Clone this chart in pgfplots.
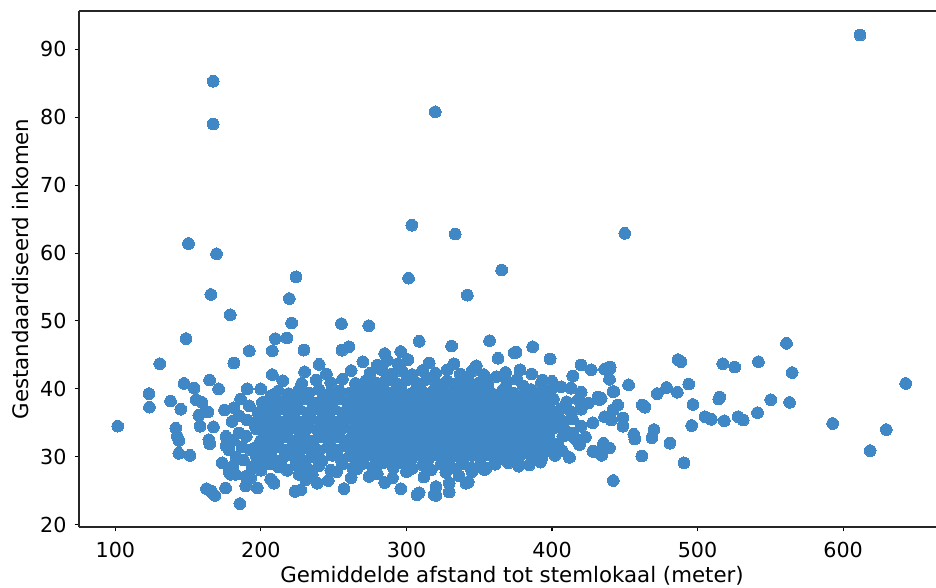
\documentclass[border=0pt]{standalone}
\usepackage{pgfplots}
\pgfplotsset{compat=1.18}
\usepackage{fontspec}
\setmainfont{DejaVu Sans}
\definecolor{pt}{RGB}{63,135,197}
\begin{document}
\begin{tikzpicture}
\begin{axis}[
  at={(0,0)}, anchor=south west,
  scale only axis,
  width=649.5pt, height=387pt,
  xmin=75, xmax=670, ymin=19.65, ymax=95.65,
  axis x line*=box, axis y line*=left,
  tick pos=left,
  tick align=outside,
  major tick length=3.2pt,
  tick style={black, line width=0.8pt},
  axis line style={black!85, line width=1pt},
  xtick={100,200,...,600},
  ytick={20,30,...,90},
  /pgf/number format/assume math mode=true,
  ticklabel style={font=\fontsize{15.5}{18}\selectfont},
  xticklabel style={inner sep=0pt, yshift=-8pt, anchor=north},
  yticklabel style={inner sep=0pt, xshift=-6pt, anchor=east},
  xlabel={Gemiddelde afstand tot stemlokaal (meter)},
  ylabel={Gestandaardiseerd inkomen},
  label style={font=\fontsize{16}{19}\selectfont},
  xlabel style={at={([yshift=-41.25pt]axis description cs:0.5,0)}, anchor=base},
  ylabel style={at={([xshift=-37.5pt]axis description cs:0,0.5)}, anchor=base},
  clip=true,
]
\addplot[only marks, mark=*, mark size=4.4pt, mark options={fill=pt, draw=pt, line width=0pt}] coordinates {
(101.6,34.5)(123.1,39.3)(123.4,37.3)(130.5,43.7)(137.9,38.2)(141.5,34.2)(142.5,33.0)(143.6,32.4)(143.6,30.5)(144.9,37.0)
(147.2,40.8)(148.6,47.4)(150.2,61.4)(151.3,30.2)(154.1,40.1)(155.5,38.4)(157.3,36.1)(158.2,34.5)(159.6,38.0)(162.6,25.3)
(163.5,36.6)(164.2,32.5)(164.8,31.9)(164.7,41.3)(165.6,53.9)(165.6,25.0)(166.5,24.7)(167.2,85.3)(167.2,79.0)(167.4,34.4)
(168.3,24.3)(169.5,59.9)(170.9,40.0)(173.4,29.1)(175.0,36.9)(175.7,25.4)(176.0,31.6)(178.0,27.8)(178.9,50.9)(179.1,27.4)
(180.2,35.2)(180.7,28.6)(181.4,43.8)(181.4,37.2)(182.6,27.4)(184.9,33.5)(185.5,23.1)(186.0,38.5)(189.5,25.7)(189.5,27.1)
(190.6,40.0)(190.6,35.4)(192.0,45.6)
(176,33.0)(178,31.0)(181,32.4)(183,30.0)(185,36.0)(187,31.5)(188,29.5)(190,33.0)(192,37.5)(193,31.0)(194,28.5)(196,34.5)
(197,30.0)(198,36.5)(199,32.0)(199.8,40.0)(200,28.0)(201,38.0)(202,34.0)(203,30.5)(204,36.0)(205,32.5)(206,29.0)(207,39.0)
(208,35.5)(209,31.5)(210,37.5)(211,33.5)(212,28.5)(207.8,42.1)(207.8,45.6)(209.9,47.4)(192.9,26.9)(197.5,25.4)
(206.7,26.7)(209,26.1)(223.4,24.9)(227.3,25.1)(226.2,27.4)(230.8,26.6)(235.3,27.4)(238.7,26.1)(246.3,26.5)(257.1,25.3)
(274.3,27.1)(290.4,26.9)(296.1,25.3)(307.2,24.4)(308.7,24.7)(319.1,24.4)(320.2,24.3)(320.2,25.6)(329.4,24.8)(329.4,26.1)
(340.9,26.1)(342.5,26.3)(252,27.8)(262,26.9)(266,28.2)(280,27.5)(285,26.2)(300,27.8)(312,27.0)(327,27.7)(336,27.2)(345,27.8)
(212.4,28.6)(206.7,29.1)(218,28.0)(224,28.8)(232,28.3)(240,28.7)(248,28.0)(256,28.9)(263,28.4)(270,29.0)(277,28.5)(284,29.1)
(291,28.4)(298,29.0)(304,28.3)(311,28.8)(317,28.1)(324,28.9)(331,28.4)(338,29.0)(344,28.4)(350,28.6)(354.6,28.3)(353.5,28.1)
(361,28.9)(370,29.1)(377,28.6)(384.4,28.8)(392,29.2)
(200,29.7)(207,30.1)(214,29.5)(221,30.2)(228,29.6)(235,30.0)(242,29.4)(249,30.2)(255,29.6)(261,30.1)(267,29.5)(273,30.2)
(279,29.7)(285,30.3)(291,29.6)(297,30.1)(303,29.5)(309,30.2)(315,29.7)(321,30.3)(327,29.6)(333,30.1)(339,29.5)(345,30.2)
(351,29.8)(357,30.3)(363,29.7)(370,30.2)(377,29.9)(385,30.3)(393,29.8)(402,30.2)(412,29.9)(428.5,30.8)(434,30.2)(461.7,30.1)
(490.6,29.1)
(196,31.3)(203,30.9)(210,31.5)(216,31.0)(222,31.6)(228,31.1)(234,31.5)(240,30.9)(246,31.4)(252,31.0)(258,31.6)(264,31.1)
(270,31.5)(276,30.9)(282,31.4)(288,31.0)(294,31.6)(300,31.1)(306,31.5)(312,31.0)(318,31.4)(324,31.0)(330,31.6)(336,31.1)
(342,31.5)(348,31.0)(354,31.4)(359.2,31.5)(366.1,30.8)(372,31.3)(379,31.0)(386,31.5)(393,31.1)(399.4,31.8)(400.5,31.5)
(407,30.9)(418.9,31.8)(428,30.8)(434.9,31.5)(439.5,31.3)
(200,32.4)(206,32.8)(212,32.3)(218,32.9)(224,32.4)(230,32.8)(236,32.3)(242,32.9)(248,32.5)(254,32.9)(260,32.3)(266,32.8)
(272,32.4)(278,32.9)(284,32.3)(290,32.8)(296,32.4)(302,32.9)(308,32.3)(314,32.8)(320,32.4)(326,32.9)(332,32.3)(338,32.8)
(344,32.4)(350,32.9)(356,32.3)(362,32.8)(368,32.4)(374,32.9)(377.6,33.0)(384,32.4)(391,32.8)(398,32.3)(407.4,33.0)
(410.8,33.2)(416,32.6)(423,32.9)(435.4,32.0)(456.9,32.6)(456.2,33.3)(468.6,32.8)(481,32.0)
(197,34.1)(203,33.7)(209,34.3)(215,33.8)(221,34.2)(227,33.7)(233,34.3)(239,33.9)(245,34.2)(251,33.7)(257,34.3)(263,33.8)
(269,34.2)(275,33.7)(281,34.3)(287,33.8)(293,34.2)(299,33.7)(305,34.3)(311,33.8)(317,34.2)(323,33.7)(329,34.3)(335,33.8)
(341,34.2)(347,33.7)(353,34.3)(359,33.8)(365,34.2)(371,33.7)(377,34.3)(383,33.8)(389,34.2)(395,33.7)(402,34.3)(409,33.8)
(420,34.5)(428,35.0)(448.7,34.5)(470,34.0)(495.9,34.6)
(198,35.5)(204,35.1)(210,35.7)(216,35.2)(222,35.6)(228,35.1)(234,35.7)(240,35.2)(246,35.6)(252,35.1)(258,35.7)(264,35.2)
(270,35.6)(276,35.1)(282,35.7)(288,35.2)(294,35.6)(300,35.1)(306,35.7)(312,35.2)(318,35.6)(324,35.1)(330,35.7)(336,35.2)
(342,35.6)(348,35.1)(354,35.7)(360,35.2)(366,35.6)(372,35.1)(378,35.7)(384,35.2)(390,35.6)(396,35.1)(402,35.7)(408,35.2)
(414,35.6)(436.1,35.9)(440.7,35.4)(448.7,35.7)(505.1,35.9)(509.5,35.5)(518.4,35.3)(527.8,35.9)(531.3,35.4)
(202,36.9)(208,36.5)(214,37.1)(220,36.6)(226,37.0)(232,36.5)(238,37.1)(244,36.6)(250,37.0)(256,36.5)(262,37.1)(268,36.6)
(274,37.0)(280,36.5)(286,37.1)(292,36.6)(298,37.0)(304,36.5)(310,37.1)(316,36.6)(322,37.0)(328,36.5)(334,37.1)(340,36.6)
(346,37.0)(352,36.5)(358,37.1)(364,36.6)(370,37.0)(376,36.5)(382,37.1)(388,36.6)(394,37.0)(400,36.5)(406,37.1)(413,36.6)
(420,37.0)(441.8,36.9)(541.2,36.5)
(205,38.3)(212,37.9)(218,38.4)(224,38.0)(230,38.5)(236,37.9)(242,38.4)(248,38.0)(254,38.5)(260,37.9)(266,38.4)(272,38.0)
(278,38.5)(284,37.9)(290,38.4)(296,38.0)(302,38.5)(308,37.9)(314,38.4)(320,38.0)(326,38.5)(332,37.9)(338,38.4)(344,38.0)
(350,38.5)(356,37.9)(362,38.4)(368,38.0)(374,38.5)(380,37.9)(387,38.4)(394,38.0)(401,38.5)(410,38.1)(418,38.4)(425,37.9)
(431.5,38.8)(432.6,38.4)(445.2,37.6)(462,37.6)(463.8,37.3)(496.8,37.7)(515.2,38.8)(514.5,38.5)(550.3,38.4)(563.2,38.0)
(212,39.7)(219,39.3)(226,39.8)(233,39.4)(240,39.9)(247,39.3)(254,39.7)(261,39.4)(268,39.9)(275,39.3)(282,39.8)(289,39.4)
(296,39.9)(303,39.3)(310,39.8)(317,39.4)(324,39.9)(331,39.3)(338,39.8)(345,39.4)(352,39.9)(359,39.3)(366,39.8)(373,39.4)
(383.3,39.6)(385.6,39.9)(392,39.3)(399,39.8)(406.3,40.3)(413.1,40.1)(420,39.5)(433.8,38.6)(441.8,39.6)(442.5,39.6)
(472.3,39.3)(478.7,40.2)(486.1,39.5)(452.6,40.6)(493.9,40.7)
(215,41.2)(228,40.8)(238,41.3)(248,40.9)(256,41.4)(265,40.8)(272,41.2)(279,40.9)(286,41.4)(293,40.8)(300,41.3)(307,40.9)
(314,41.4)(321,40.8)(328,41.2)(335,40.9)(342,41.3)(349,40.8)(355,41.2)(361.7,41.8)(369,41.0)(376,41.4)(392.5,40.8)
(393.6,41.3)(400,41.1)(414.3,41.9)(439.5,41.4)
(230,42.5)(245,42.2)(262,42.7)(275,42.3)(283,42.8)(290,42.2)(297,42.6)(304,42.1)(311,42.7)(320,42.3)(328,42.8)(337,42.2)
(345,42.6)(353,42.1)(368,42.4)(378,42.8)(386,42.2)(420,43.5)(426.9,42.8)(436.1,42.9)(437.2,43.0)(440,43.2)(439.5,42.9)
(565,42.4)
(240,43.6)(270,44.0)(280,43.5)(287,44.2)(294,43.7)(301,44.3)(315.6,43.8)(332.6,43.7)(348,43.4)(362.9,44.5)(398.7,44.4)
(517.3,43.7)(525.5,43.2)(541.8,44.0)(486.5,44.3)(488.6,44.0)
(229.5,45.7)(255.7,45.7)(260.5,46.2)(285,45.2)(296,45.5)(308.7,47.0)(331,46.3)(357.1,47.1)(374.1,45.3)(375.3,45.4)
(386.7,46.2)(217.8,47.5)(561.1,46.7)(255.3,49.6)(274.1,49.3)(221.1,49.7)
(219.5,53.3)(341.8,53.8)(224.1,56.5)(301.4,56.3)(365.4,57.5)(333.5,62.8)(450.0,62.9)(303.7,64.1)(319.8,80.8)(611.6,92.1)
(592.8,34.9)(629.7,34.0)(618.6,30.9)(643.0,40.8)(442.1,26.5)
(263,30.6)(269,30.4)(275,30.7)(281,30.3)(287,30.6)(293,30.4)(299,30.7)(305,30.3)(311,30.6)(317,30.4)(323,30.7)(329,30.3)
(335,30.6)(341,30.4)(347,30.7)(353,30.3)(359,30.6)(365,30.4)(371,30.7)(377,30.3)(383,30.6)(389,30.4)(395,30.7)
(266,31.8)(272,32.1)(278,31.9)(284,32.0)(290,31.7)(296,32.1)(302,31.8)(308,32.0)(314,31.7)(320,32.1)(326,31.8)(332,32.0)
(338,31.7)(344,32.1)(350,31.8)(356,32.0)(362,31.7)(368,32.1)(374,31.8)(380,32.0)(386,31.7)(392,32.1)(404,31.9)
(263,33.3)(269,33.1)(275,33.4)(281,33.2)(287,33.4)(293,33.1)(299,33.3)(305,33.2)(311,33.4)(317,33.1)(323,33.3)(329,33.2)
(335,33.4)(341,33.1)(347,33.3)(353,33.2)(359,33.4)(365,33.1)(371,33.3)(380,33.2)(386,33.4)(392,33.1)(398,33.3)(414,33.5)
(266,34.8)(272,34.6)(278,34.9)(284,34.7)(290,34.9)(296,34.6)(302,34.8)(308,34.7)(314,34.9)(320,34.6)(326,34.8)(332,34.7)
(338,34.9)(344,34.6)(350,34.8)(356,34.7)(362,34.9)(368,34.6)(374,34.8)(380,34.7)(386,34.9)(392,34.6)(399,34.8)(406,34.7)
(263,36.1)(269,36.3)(275,36.0)(281,36.2)(287,36.1)(293,36.3)(299,36.0)(305,36.2)(311,36.1)(317,36.3)(323,36.0)(329,36.2)
(335,36.1)(341,36.3)(347,36.0)(353,36.2)(359,36.1)(365,36.3)(371,36.0)(377,36.2)(383,36.1)(389,36.3)(396,36.0)(404,36.2)
(266,37.6)(272,37.4)(278,37.7)(284,37.5)(290,37.7)(296,37.4)(302,37.6)(308,37.5)(314,37.7)(320,37.4)(326,37.6)(332,37.5)
(338,37.7)(344,37.4)(350,37.6)(356,37.5)(362,37.7)(368,37.4)(374,37.6)(380,37.5)(386,37.7)(392,37.4)(398,37.6)
(269,38.9)(275,39.1)(281,38.8)(287,39.0)(293,38.9)(299,39.1)(305,38.8)(311,39.0)(317,38.9)(323,39.1)(329,38.8)(335,39.0)
(341,38.9)(347,39.1)(353,38.8)(359,39.0)(365,38.9)(371,39.1)(377,38.8)(389,39.0)(396,38.9)
(272,40.3)(284,40.5)(296,40.2)(308,40.4)(320,40.3)(332,40.5)(344,40.2)(356,40.4)(368,40.3)(380,40.4)
};
\end{axis}
\pgfresetboundingbox
\useasboundingbox (-59.25pt,-45pt) rectangle (642.75pt,395.25pt);
\end{tikzpicture}
\end{document}
